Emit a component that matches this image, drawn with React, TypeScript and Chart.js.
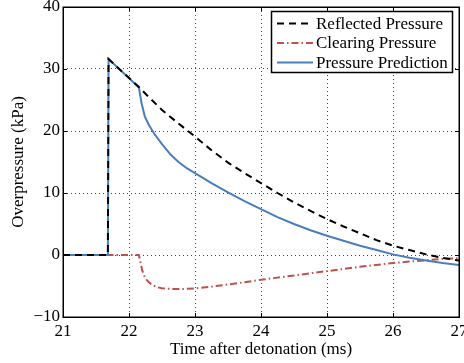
import React, { useEffect, useRef } from "react";
import { Chart, registerables } from "chart.js";

Chart.register(...registerables);

// ---- data ----
const reflectedTime = [21, 21.68, 21.69, 22.15, 22.25, 22.5, 22.75, 23.0, 23.25, 23.5, 23.75, 24.0, 24.25, 24.5, 24.75, 25.0, 25.25, 25.5, 25.75, 26.0, 26.25, 26.5, 26.75, 27.0];
const reflectedPressure = [0, 0, 31.6, 27.1, 26.0, 23.4, 21.2, 19.1, 16.9, 14.9, 13.2, 11.6, 10.0, 8.5, 7.1, 5.8, 4.6, 3.5, 2.4, 1.5, 0.8, 0.1, -0.45, -0.9];

const clearingTime = [21, 22.15, 22.2, 22.25, 22.3, 22.35, 22.43, 22.5, 22.6, 22.75, 23.0, 23.25, 23.5, 23.75, 24.0, 24.25, 24.5, 24.75, 25.0, 25.25, 25.5, 25.75, 26.0, 26.25, 26.5, 26.75, 27.0];
const clearingPressure = [0, 0, -2.5, -3.8, -4.4, -4.8, -5.2, -5.35, -5.45, -5.5, -5.4, -5.1, -4.75, -4.4, -4.0, -3.65, -3.3, -2.95, -2.6, -2.25, -1.9, -1.6, -1.3, -1.05, -0.85, -0.65, -0.5];

const predictionTime = [21, 21.68, 21.69, 22.15, 22.19, 22.24, 22.3, 22.38, 22.5, 22.63, 22.75, 22.875, 23.0, 23.25, 23.5, 23.75, 24.0, 24.25, 24.5, 24.75, 25.0, 25.25, 25.5, 25.75, 26.0, 26.25, 26.5, 26.75, 27.0];
const predictionPressure = [0, 0, 31.6, 27.0, 24.5, 22.3, 21.0, 19.6, 17.9, 16.2, 15.0, 14.0, 13.2, 11.6, 10.1, 8.7, 7.4, 6.1, 5.0, 4.0, 3.1, 2.3, 1.5, 0.8, 0.1, -0.45, -0.9, -1.3, -1.6];

const xTickValues = [21, 22, 23, 24, 25, 26, 27];
const yTickValues = [-10, 0, 10, 20, 30, 40];
const seriesLabels = ["Reflected Pressure", "Clearing Pressure", "Pressure Prediction"];
const xAxisTitle = "Time after detonation (ms)";
const yAxisTitle = "Overpressure (kPa)";

const SERIF = "'Liberation Serif', 'Times New Roman', Times, serif";
const COLORS = ["#000000", "rgb(192,80,77)", "rgb(74,126,187)"];
const DASHES: number[][] = [[7, 5], [7, 3, 1.5, 3], []];

const toPoints = (xs: number[], ys: number[]) => xs.map((x, i) => ({ x, y: ys[i] }));

const framePlugin = {
  id: "matlabFrame",
  afterDraw(chart: any) {
    const { ctx, chartArea, scales } = chart;
    const { left, right, top, bottom } = chartArea;
    ctx.save();
    ctx.setLineDash([]);
    ctx.strokeStyle = "#000";
    ctx.lineWidth = 1.5;
    const L = Math.round(left), R = Math.round(right), T = Math.round(top), B = Math.round(bottom);
    ctx.strokeRect(L + 0.25, T + 0.25, R - L, B - T);
    // inward ticks
    const tl = 4;
    ctx.lineWidth = 1;
    ctx.beginPath();
    xTickValues.forEach((v) => {
      const px = Math.round(scales.x.getPixelForValue(v)) + 0.5;
      ctx.moveTo(px, B);
      ctx.lineTo(px, B - tl);
      ctx.moveTo(px, T);
      ctx.lineTo(px, T + tl);
    });
    yTickValues.forEach((v) => {
      const py = Math.round(scales.y.getPixelForValue(v)) + 0.5;
      ctx.moveTo(L, py);
      ctx.lineTo(L + tl, py);
      ctx.moveTo(R, py);
      ctx.lineTo(R - tl, py);
    });
    ctx.stroke();

    // legend box
    const bx = 271.5, by = 11.5, bw = 181, bh = 61;
    ctx.fillStyle = "#fff";
    ctx.fillRect(bx, by, bw, bh);
    ctx.lineWidth = 1.5;
    ctx.strokeRect(bx, by, bw, bh);
    const rowY = [23.5, 43, 62.5];
    ctx.font = `17px ${SERIF}`;
    ctx.textBaseline = "middle";
    ctx.textAlign = "left";
    chart.data.datasets.forEach((ds: any, i: number) => {
      const y = rowY[i];
      ctx.beginPath();
      ctx.strokeStyle = ds.borderColor;
      ctx.lineWidth = ds.borderWidth;
      ctx.setLineDash(ds.borderDash || []);
      ctx.moveTo(277, y);
      ctx.lineTo(313, y);
      ctx.stroke();
      ctx.setLineDash([]);
      ctx.fillStyle = "#000";
      ctx.fillText(ds.label, 316, y + 1);
    });
    ctx.restore();
  },
};

export default function App() {
  const canvasRef = useRef<HTMLCanvasElement | null>(null);

  useEffect(() => {
    const canvas = canvasRef.current;
    if (!canvas) return;
    const series = [
      toPoints(reflectedTime, reflectedPressure),
      toPoints(clearingTime, clearingPressure),
      toPoints(predictionTime, predictionPressure),
    ];
    const orders = [0, 2, 1];
    const chart = new Chart(canvas, {
      type: "line",
      data: {
        datasets: series.map((data, i) => ({
          label: seriesLabels[i],
          data,
          borderColor: COLORS[i],
          backgroundColor: COLORS[i],
          borderWidth: 2,
          borderDash: DASHES[i],
          pointRadius: 0,
          fill: false,
          tension: 0,
          order: orders[i],
        })),
      },
      options: {
        animation: false,
        responsive: false,
        maintainAspectRatio: false,
        layout: { padding: { left: 0, right: 5, top: 7, bottom: 0 } },
        plugins: { legend: { display: false }, tooltip: { enabled: false } },
        scales: {
          x: {
            type: "linear",
            min: 21,
            max: 27,
            afterBuildTicks: (scale: any) => {
              scale.ticks = xTickValues.map((v) => ({ value: v }));
            },
            afterFit: (scale: any) => {
              scale.height = 46;
              scale.paddingLeft = 0;
              scale.paddingRight = 0;
            },
            grid: { color: "#444", lineWidth: 1, drawTicks: false },
            border: { display: false, dash: [1, 3] },
            ticks: {
              color: "#000",
              font: { family: SERIF, size: 17 },
              padding: 4,
              maxRotation: 0,
              autoSkip: false,
              callback: (v: any) => String(v),
            },
            title: {
              display: true,
              text: xAxisTitle,
              color: "#000",
              font: { family: SERIF, size: 17 },
              padding: { top: 0, bottom: 3 },
            },
          },
          y: {
            type: "linear",
            min: -10,
            max: 40,
            afterBuildTicks: (scale: any) => {
              scale.ticks = yTickValues.map((v) => ({ value: v }));
            },
            afterFit: (scale: any) => {
              scale.width = 63;
              scale.paddingTop = 0;
              scale.paddingBottom = 0;
            },
            grid: { color: "#444", lineWidth: 1, drawTicks: false },
            border: { display: false, dash: [1, 3] },
            ticks: {
              color: "#000",
              font: { family: SERIF, size: 17 },
              padding: 3,
              autoSkip: false,
              callback: (v: any) => String(v).replace("-", "\u2212"),
            },
            title: {
              display: true,
              text: yAxisTitle,
              color: "#000",
              font: { family: SERIF, size: 17 },
              padding: { top: 8, bottom: 0 },
            },
          },
        },
      },
      plugins: [framePlugin],
    } as any);
    return () => chart.destroy();
  }, []);

  return (
    <div style={{ position: "absolute", left: 0, top: 0, width: 464, height: 363, background: "#fff" }}>
      <canvas ref={canvasRef} width={464} height={363} style={{ display: "block" }} />
    </div>
  );
}
